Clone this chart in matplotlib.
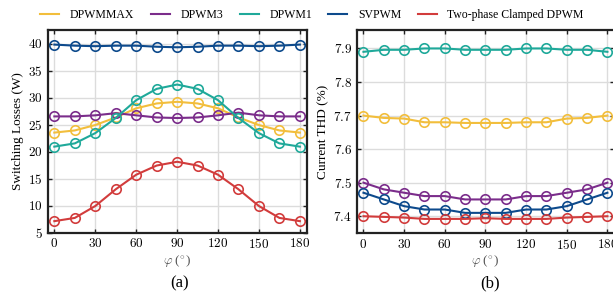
import matplotlib
matplotlib.use("Agg")
import matplotlib.pyplot as plt
from matplotlib.ticker import FuncFormatter

plt.rcParams['mathtext.fontset'] = 'cm'
plt.rcParams['font.family'] = ['Liberation Serif', 'DejaVu Serif']

phi = [0, 15, 30, 45, 60, 75, 90, 105, 120, 135, 150, 165, 180]
series = ["DPWMMAX", "DPWM3", "DPWM1", "SVPWM", "Two-phase Clamped DPWM"]
colors = ["#F2BE3C", "#7B2D8B", "#1FA99A", "#0D4A8C", "#D23C3C"]

loss_dpwmmax = [23.5, 23.9, 24.9, 26.3, 28.0, 28.9, 29.2, 28.9, 28.0, 26.3, 24.9, 23.9, 23.5]
loss_dpwm3 = [26.5, 26.5, 26.7, 27.1, 26.7, 26.3, 26.2, 26.3, 26.7, 27.2, 26.7, 26.5, 26.5]
loss_dpwm1 = [20.9, 21.5, 23.4, 26.2, 29.5, 31.6, 32.4, 31.6, 29.5, 26.2, 23.4, 21.5, 20.9]
loss_svpwm = [39.8, 39.6, 39.5, 39.6, 39.6, 39.4, 39.3, 39.4, 39.6, 39.6, 39.5, 39.6, 39.8]
loss_tpc = [7.1, 7.7, 9.9, 13.0, 15.7, 17.4, 18.1, 17.4, 15.7, 13.0, 9.9, 7.7, 7.1]

thd_dpwmmax = [7.70, 7.693, 7.691, 7.68, 7.68, 7.678, 7.678, 7.678, 7.68, 7.68, 7.691, 7.693, 7.70]
thd_dpwm3 = [7.50, 7.48, 7.47, 7.46, 7.46, 7.45, 7.45, 7.45, 7.46, 7.46, 7.47, 7.48, 7.50]
thd_dpwm1 = [7.89, 7.896, 7.896, 7.90, 7.90, 7.896, 7.896, 7.896, 7.90, 7.90, 7.896, 7.896, 7.89]
thd_svpwm = [7.47, 7.45, 7.43, 7.42, 7.42, 7.41, 7.41, 7.41, 7.42, 7.42, 7.43, 7.45, 7.47]
thd_tpc = [7.40, 7.398, 7.396, 7.392, 7.392, 7.392, 7.394, 7.392, 7.392, 7.392, 7.396, 7.398, 7.40]

losses = [loss_dpwmmax, loss_dpwm3, loss_dpwm1, loss_svpwm, loss_tpc]
thds = [thd_dpwmmax, thd_dpwm3, thd_dpwm1, thd_svpwm, thd_tpc]

xticks = [0, 30, 60, 90, 120, 150, 180]

fig = plt.figure(figsize=(6.13, 2.97), dpi=100)
W, H = 613, 297
def rect(l, t, r, b):
    return [l / W, 1 - b / H, (r - l) / W, (b - t) / H]

ax1 = fig.add_axes(rect(47.5, 30, 306.7, 232.5))
ax2 = fig.add_axes(rect(356.7, 30, 614.2, 233))

mathfmt = FuncFormatter(lambda v, p: f'${v:g}$')

for ax, data in [(ax1, losses), (ax2, thds)]:
    for name, col, ys in zip(series, colors, data):
        ax.plot(phi, ys, '-o', color=col, lw=1.5, ms=6.8, mfc='none',
                mew=1.2, label=name)
    ax.set_xlim(-5, 185)
    ax.set_xticks(xticks)
    ax.grid(True, color='#dcdcdc', lw=1.0)
    ax.set_axisbelow(True)
    ax.tick_params(direction='in', top=True, right=True, labelsize=9.5,
                   length=3, width=1.0, color='#222222')
    ax.xaxis.set_major_formatter(mathfmt)
    ax.yaxis.set_major_formatter(mathfmt)
    for s in ax.spines.values():
        s.set_linewidth(1.6)
        s.set_color('#222222')
    ax.set_xlabel(r'$\varphi$ ($^{\circ}$)', fontsize=9.5, labelpad=1, color='#555555')

ax1.set_ylim(5, 42.5)
ax1.set_yticks([5, 10, 15, 20, 25, 30, 35, 40])
ax1.set_ylabel('Switching Losses (W)', fontsize=9.5, labelpad=3)
ax2.set_ylim(7.35, 7.955)
ax2.set_yticks([7.4, 7.5, 7.6, 7.7, 7.8, 7.9])
ax2.yaxis.set_major_formatter(FuncFormatter(lambda v, p: f'${v:.1f}$'))
ax2.set_ylabel('Current THD (%)', fontsize=9.5, labelpad=3)

leg_handles = [plt.Line2D([], [], color=c, lw=1.5) for c in colors]
fig.legend(leg_handles, series, loc='center', bbox_to_anchor=(312 / W, 1 - 15 / H),
           ncol=5, frameon=False, fontsize=8.5, handlelength=1.6,
           columnspacing=1.4, handletextpad=0.9)

fig.text(180 / W, 1 - 283 / H, '(a)', ha='center', va='center', fontsize=12)
fig.text(490 / W, 1 - 283 / H, '(b)', ha='center', va='center', fontsize=12)

fig.savefig('out.png', dpi=100)
